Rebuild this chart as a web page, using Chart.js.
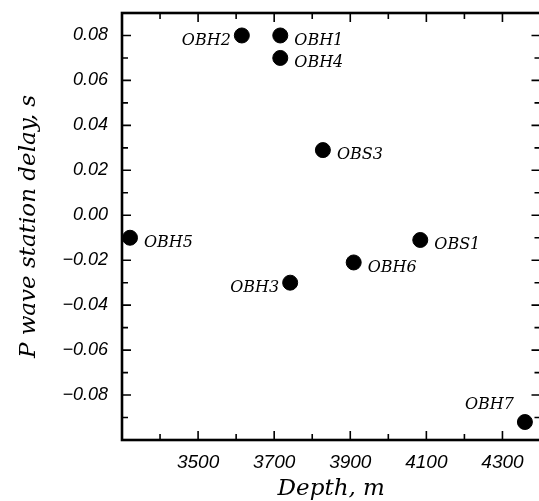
<!DOCTYPE html>
<html>
<head>
<meta charset="utf-8">
<script src="https://cdn.jsdelivr.net/npm/chart.js@4.4.1/dist/chart.umd.min.js"></script>
<style>
  html, body { margin: 0; padding: 0; background: #fff; overflow: hidden; }
  canvas { display: block; }
</style>
</head>
<body>
<canvas id="chart" width="549" height="501"></canvas>
<script>
// station data
const stations = ['OBH2', 'OBH1', 'OBH4', 'OBS3', 'OBH5', 'OBS1', 'OBH6', 'OBH3', 'OBH7'];
const depths = [3615, 3716, 3716, 3828, 3321, 4084, 3909, 3742, 4359];
const delays = [0.080, 0.080, 0.070, 0.029, -0.010, -0.011, -0.021, -0.030, -0.092];

const xTicks = [3500, 3700, 3900, 4100, 4300];
const xMinorTicks = [3400, 3600, 3800, 4000, 4200];
const yTicks = [0.08, 0.06, 0.04, 0.02, 0.00, -0.02, -0.04, -0.06, -0.08];
const yMinorTicks = [0.07, 0.05, 0.03, 0.01, -0.01, -0.03, -0.05, -0.07, -0.09];

// where each label sits relative to its dot
const labelSide = { OBH2: 'left', OBH3: 'left', OBH7: 'aboveLeft' };

const fmtY = v => (v < 0 ? '\u2212' : '') + Math.abs(v).toFixed(2);

const framePlugin = {
  id: 'frame',
  afterDatasetsDraw(chart) {
    const { ctx, chartArea: a, scales: { x, y } } = chart;
    ctx.save();
    ctx.strokeStyle = '#000';
    ctx.lineWidth = 1.6;
    const tick = (vals, len) => {
      ctx.beginPath();
      vals.forEach(v => {
        const px = x.getPixelForValue(v);
        ctx.moveTo(px, a.bottom); ctx.lineTo(px, a.bottom - len);
        ctx.moveTo(px, a.top); ctx.lineTo(px, a.top + len);
      });
      ctx.stroke();
    };
    const ytick = (vals, len) => {
      ctx.beginPath();
      vals.forEach(v => {
        const py = y.getPixelForValue(v);
        ctx.moveTo(a.left, py); ctx.lineTo(a.left + len, py);
        ctx.moveTo(a.right, py); ctx.lineTo(a.right - len, py);
      });
      ctx.stroke();
    };
    tick(xTicks, 9);
    tick(xMinorTicks, 6);
    ytick(yTicks, 9);
    ytick(yMinorTicks, 6);
    ctx.lineWidth = 2.6;
    ctx.strokeRect(a.left, a.top, a.right - a.left, a.bottom - a.top);

    // station labels
    ctx.fillStyle = '#000';
    ctx.font = 'italic 16px "DejaVu Serif"';
    ctx.textBaseline = 'middle';
    const meta = chart.getDatasetMeta(0);
    meta.data.forEach((pt, i) => {
      const name = stations[i];
      const side = labelSide[name] || 'right';
      if (side === 'right') {
        ctx.textAlign = 'left';
        ctx.fillText(name, pt.x + 14, pt.y + 5);
      } else if (side === 'left') {
        ctx.textAlign = 'right';
        ctx.fillText(name, pt.x - 11, pt.y + 5);
      } else {
        ctx.textAlign = 'right';
        ctx.fillText(name, pt.x - 11, pt.y - 17);
      }
    });
    ctx.restore();
  }
};

new Chart(document.getElementById('chart'), {
  type: 'scatter',
  data: {
    datasets: [{
      label: 'P wave station delay',
      data: depths.map((d, i) => ({ x: d, y: delays[i] })),
      backgroundColor: '#000',
      borderColor: '#000',
      pointRadius: 7.5,
      pointHoverRadius: 7.5
    }]
  },
  options: {
    responsive: false,
    animation: false,
    devicePixelRatio: 1,
    layout: { padding: { top: 13, right: 4, left: 0, bottom: 0 } },
    plugins: { legend: { display: false }, tooltip: { enabled: false } },
    scales: {
      x: {
        type: 'linear',
        min: 3300,
        max: 4400,
        afterBuildTicks: s => { s.ticks = xTicks.map(v => ({ value: v })); },
        afterFit: s => { s.height = 61; s.paddingLeft = 0; s.paddingRight = 0; },
        grid: { display: false, drawTicks: false },
        border: { display: false },
        ticks: {
          color: '#000',
          padding: 11,
          maxRotation: 0,
          font: { family: '"Liberation Sans"', size: 19, style: 'italic' },
          callback: v => String(v)
        },
        title: {
          display: true,
          text: 'Depth, m',
          color: '#000',
          padding: { top: 0, bottom: 0 },
          font: { family: '"DejaVu Serif"', size: 23, style: 'italic', lineHeight: 1 }
        }
      },
      y: {
        type: 'linear',
        min: -0.1,
        max: 0.09,
        afterBuildTicks: s => { s.ticks = yTicks.map(v => ({ value: v })); },
        afterFit: s => { s.width = 122; s.paddingTop = 0; s.paddingBottom = 0; },
        grid: { display: false, drawTicks: false },
        border: { display: false },
        ticks: {
          color: '#000',
          padding: 14,
          font: { family: '"Liberation Sans"', size: 18, style: 'italic' },
          callback: v => fmtY(v)
        },
        title: {
          display: true,
          text: 'P wave station delay, s',
          color: '#000',
          padding: { top: 18, bottom: 0 },
          font: { family: '"DejaVu Serif"', size: 23, style: 'italic', lineHeight: 1 }
        }
      }
    }
  },
  plugins: [framePlugin]
});
</script>
</body>
</html>
